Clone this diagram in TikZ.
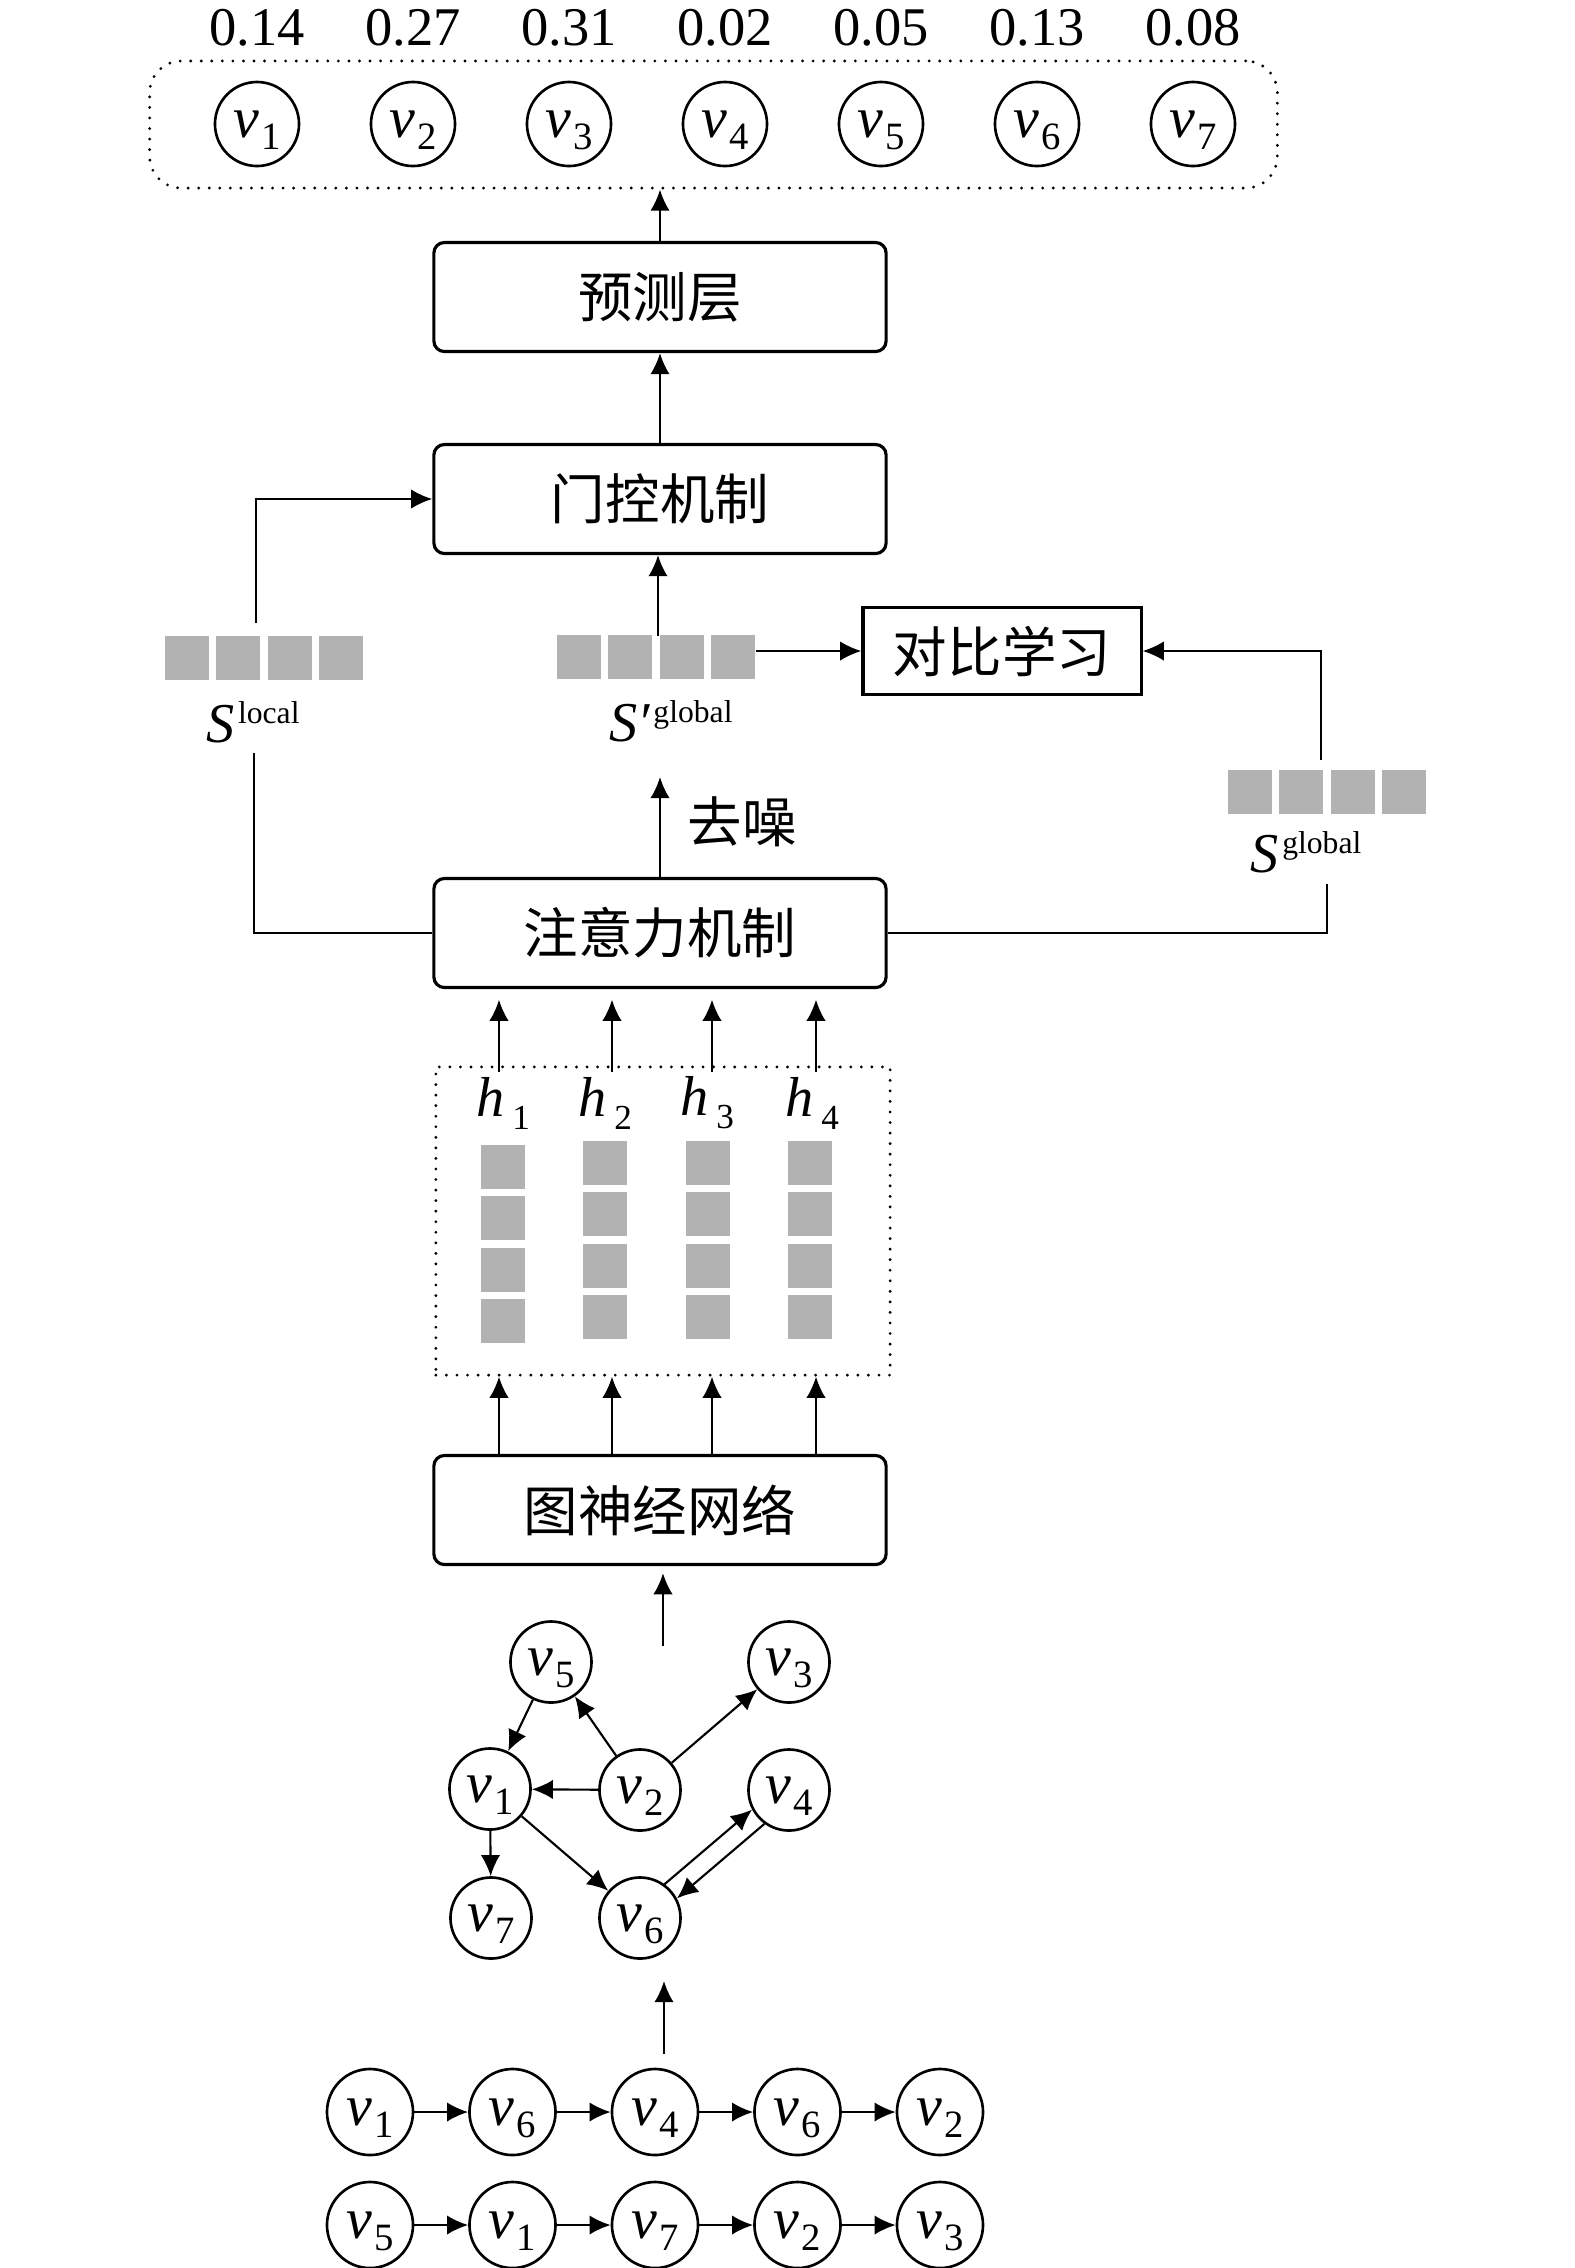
\documentclass[tikz,border=0pt]{standalone}
\usepackage{fontspec}
\setmainfont{Liberation Serif}
\newfontfamily\cjk{Noto Sans CJK SC}
\usetikzlibrary{arrows.meta,calc}
\definecolor{sqgray}{RGB}{178,178,178}
\newcommand{\vlab}[1]{\raisebox{0pt}[10.5pt][3pt]{{\fontsize{16.5}{17}\selectfont\itshape v}\kern0.6pt\raisebox{-3.6pt}{\fontsize{11}{11}\selectfont #1}}}
\newcommand{\hlab}[1]{{\fontsize{16}{16}\selectfont\itshape h}\kern2.3pt\raisebox{-3.7pt}{\fontsize{10}{10}\selectfont #1}}
\newcommand{\slab}[2]{{\fontsize{16}{16}\selectfont\itshape S#1}\kern1pt\raisebox{5.4pt}{\fontsize{9}{9}\selectfont #2}}
\begin{document}
\begin{tikzpicture}[x=0.01cm,y=-0.01cm,
  arr/.style={-{Latex[length=6pt,width=5.5pt]}, line width=0.6pt},
  ln/.style={line width=0.6pt},
  box/.style={draw, line width=0.9pt, rounded corners=3pt, minimum width=4.52cm, minimum height=1.09cm, inner sep=0pt, font=\cjk\fontsize{15.5}{18}\selectfont},
  circ/.style={draw, circle, line width=0.75pt, minimum size=0.84cm, inner sep=0pt},
  sq/.style={fill=sqgray, minimum size=0.44cm, inner sep=0pt},
  dotbox/.style={draw, line width=0.9pt, dash pattern=on 0pt off 3pt, line cap=round},
  num/.style={font=\fontsize{15.5}{18}\selectfont},
  cjkl/.style={font=\cjk\fontsize{15.5}{18}\selectfont}]
\useasboundingbox (0,0) rectangle (1575,2268);
% top output row
\foreach \n [count=\i] in {0.14,0.27,0.31,0.02,0.05,0.13,0.08} {
  \node[num] (p\i) at ({257+156*(\i-1)},28) {\n};
  \node[circ] (t\i) at ({257+156*(\i-1)},124) {\vlab{\i}};
}
\node[dotbox, rounded corners=9pt, minimum width=11.27cm, minimum height=1.27cm] (out) at (713.5,124.5) {};
% boxes
\node[box] (pred) at (660,297) {预测层};
\node[box] (gate) at (660,499) {门控机制};
\node[box, sharp corners, minimum width=2.78cm, minimum height=0.87cm] (cl) at (1002,651) {对比学习};
\node[box] (attn) at (660,933) {注意力机制};
\node[box] (gnn) at (660,1510) {图神经网络};
\draw[arr] (pred.north) -- (pred.north |- out.south);
\draw[arr] (gate.north) -- (pred.south);
% squares
\foreach \i in {1,...,4} {
  \node[sq] (sl\i) at ({187+51.3*(\i-1)},658) {};
  \node[sq] (sp\i) at ({579+51.3*(\i-1)},657) {};
  \node[sq] (sg\i) at ({1250+51.3*(\i-1)},792) {};
}
\node[anchor=base] (slocal) at (253,742) {\slab{}{local}};
\node[anchor=base] (sprime) at (671,741) {\slab{′}{global}};
\node[anchor=base] (sglobal) at (1306,872) {\slab{}{global}};
\coordinate (lt) at (256,623);
\draw[arr] (lt) |- (gate.west);
\coordinate (lb) at (254,753);
\draw[ln] (attn.west) -| (lb);
\coordinate (pt) at (658,636);
\draw[arr] (pt) -- (pt |- gate.south);
\draw[arr] (sp4.east |- cl.west) -- (cl.west);
\coordinate (gt) at (1321,760);
\draw[arr] (gt) |- (cl.east);
\coordinate (gb) at (1327,884);
\draw[ln] (attn.east) -| (gb);
\coordinate (dn) at (660,777);
\draw[arr] (attn.north) -- (dn);
\node[cjkl] (qz) at (742,822) {去噪};
% h box
\node[dotbox, minimum width=4.54cm, minimum height=3.08cm] (hb) at (663,1221) {};
\foreach \x [count=\i] in {503,605,707,812} {
  \node (h\i) at (\x,1103) {\hlab{\i}};
}
\foreach \x/\y [count=\c] in {503/1167,605/1163,708/1163,810/1163} {
  \foreach \r in {1,...,4} {
    \node[sq] (hs\c\r) at (\x,{\y+51.3*(\r-1)}) {};
  }
}
\foreach \x [count=\i] in {499,612,712,816} {
  \coordinate (ca\i) at (\x,1072);
  \draw[arr, shorten >=3pt] (ca\i) -- (ca\i |- attn.south);
  \draw[arr] (ca\i |- gnn.north) -- (ca\i |- hb.south);
}
% graph
\coordinate (ga) at (663,1646);
\draw[arr, shorten >=2pt] (ga) -- (ga |- gnn.south);
\begin{scope}[every node/.style={circ, minimum size=0.81cm}]
\node (g5) at (551,1662) {\vlab{5}};
\node (g3) at (789,1662) {\vlab{3}};
\node (g1) at (490,1789) {\vlab{1}};
\node (g2) at (640,1790) {\vlab{2}};
\node (g4) at (789,1790) {\vlab{4}};
\node (g7) at (491,1918) {\vlab{7}};
\node (g6) at (640,1918) {\vlab{6}};
\end{scope}
\draw[arr] (g5) -- (g1);
\draw[arr] (g2) -- (g5);
\draw[arr] (g2) -- (g3);
\draw[arr] (g2) -- (g1);
\draw[arr] (g1) -- (g7);
\draw[arr] (g1) -- (g6);
\draw[arr] (g6.54) -- (g4.208);
\draw[arr] (g4.234) -- (g6.28);
% sequences
\coordinate (sa) at (664,2054);
\coordinate (sb) at (664,1981);
\draw[arr] (sa) -- (sb);
\foreach \l [count=\i] in {1,6,4,6,2} {
  \node[circ, minimum size=0.86cm] (a\i) at ({370+142.5*(\i-1)},2112) {\vlab{\l}};
}
\foreach \l [count=\i] in {5,1,7,2,3} {
  \node[circ, minimum size=0.86cm] (b\i) at ({370+142.5*(\i-1)},2225) {\vlab{\l}};
}
\foreach \i [evaluate=\i as \j using int(\i+1)] in {1,...,4} {
  \draw[arr] (a\i) -- (a\j);
  \draw[arr] (b\i) -- (b\j);
}
\end{tikzpicture}
\end{document}
